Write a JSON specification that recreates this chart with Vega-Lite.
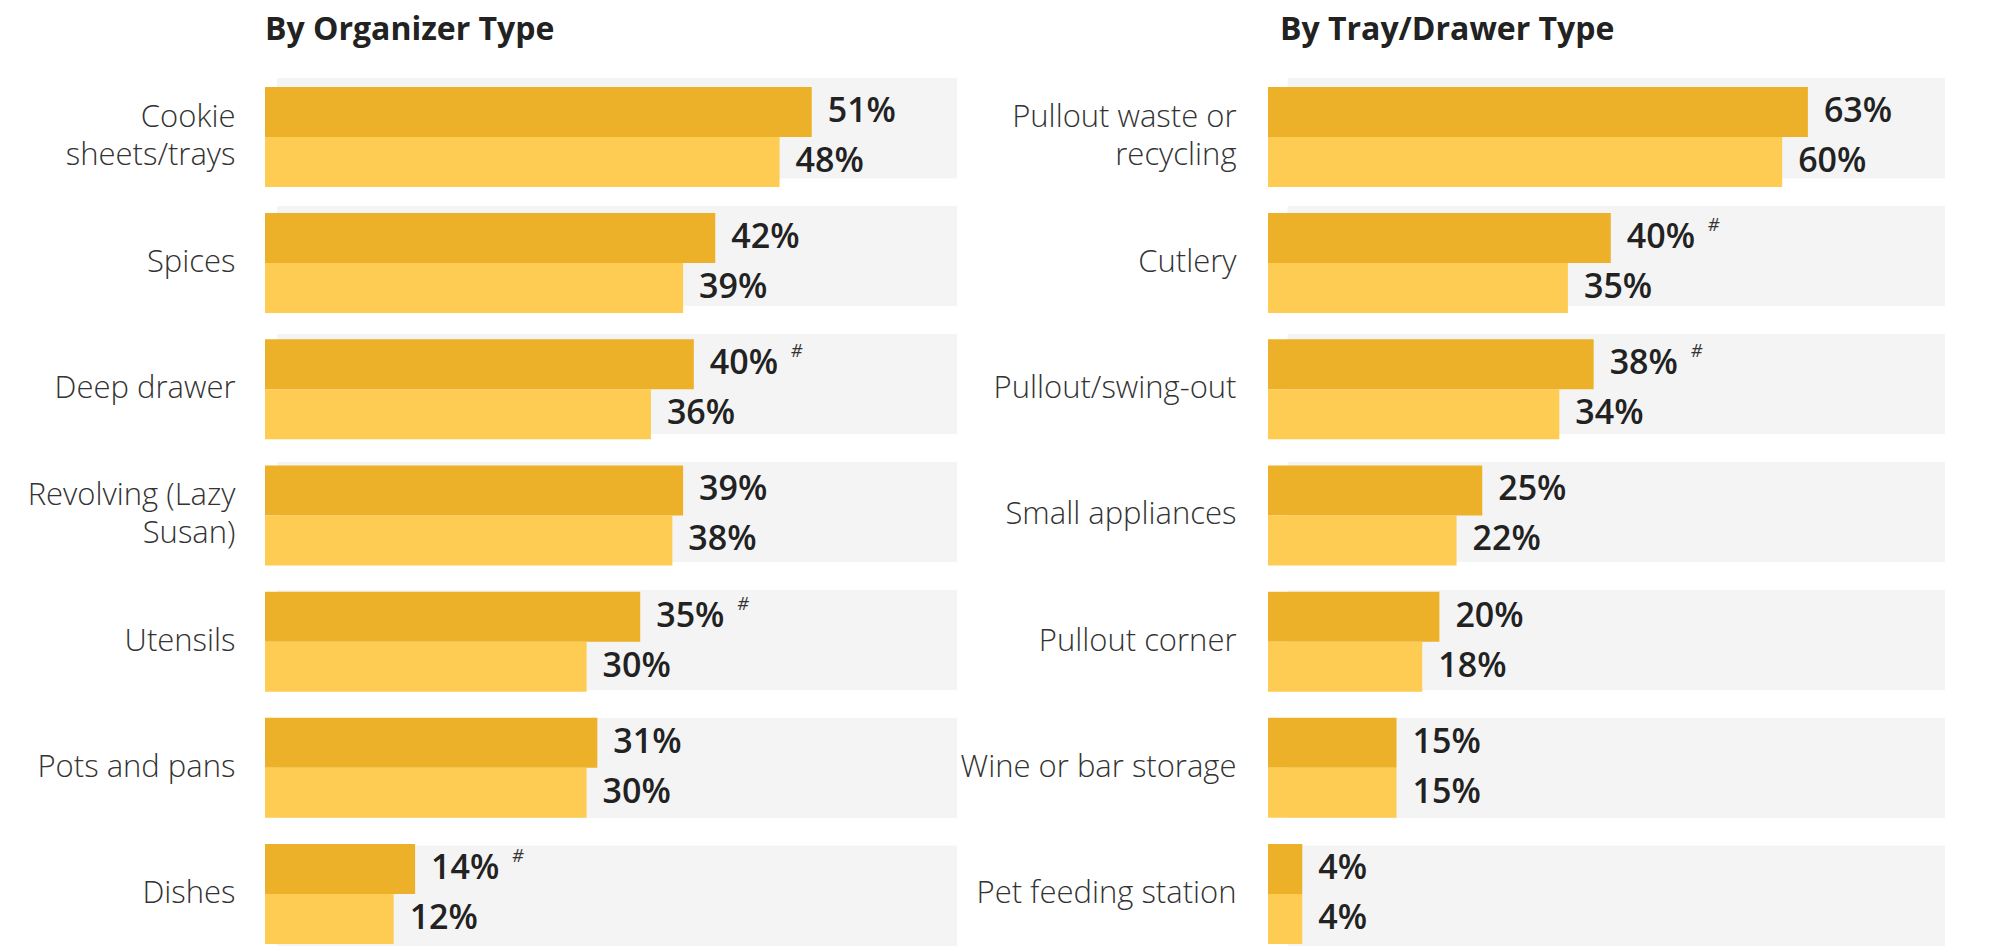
{
  "$schema": "https://vega.github.io/schema/vega-lite/v6.json",
  "background": "white",
  "padding": {"left": 0, "top": 14, "right": 0, "bottom": 0},
  "spacing": 0,
  "config": {"view": {"stroke": null}, "font": "Open Sans"},
  "datasets": {
    "left": [
      {"cat": "Cookie\nsheets/trays", "series": "current", "value": 51, "label": "51%", "flag": false},
      {"cat": "Cookie\nsheets/trays", "series": "prior", "value": 48, "label": "48%", "flag": false},
      {"cat": "Spices", "series": "current", "value": 42, "label": "42%", "flag": false},
      {"cat": "Spices", "series": "prior", "value": 39, "label": "39%", "flag": false},
      {"cat": "Deep drawer", "series": "current", "value": 40, "label": "40%", "flag": true},
      {"cat": "Deep drawer", "series": "prior", "value": 36, "label": "36%", "flag": false},
      {"cat": "Revolving (Lazy\nSusan)", "series": "current", "value": 39, "label": "39%", "flag": false},
      {"cat": "Revolving (Lazy\nSusan)", "series": "prior", "value": 38, "label": "38%", "flag": false},
      {"cat": "Utensils", "series": "current", "value": 35, "label": "35%", "flag": true},
      {"cat": "Utensils", "series": "prior", "value": 30, "label": "30%", "flag": false},
      {"cat": "Pots and pans", "series": "current", "value": 31, "label": "31%", "flag": false},
      {"cat": "Pots and pans", "series": "prior", "value": 30, "label": "30%", "flag": false},
      {"cat": "Dishes", "series": "current", "value": 14, "label": "14%", "flag": true},
      {"cat": "Dishes", "series": "prior", "value": 12, "label": "12%", "flag": false}
    ],
    "right": [
      {"cat": "Pullout waste or\nrecycling", "series": "current", "value": 63, "label": "63%", "flag": false},
      {"cat": "Pullout waste or\nrecycling", "series": "prior", "value": 60, "label": "60%", "flag": false},
      {"cat": "Cutlery", "series": "current", "value": 40, "label": "40%", "flag": true},
      {"cat": "Cutlery", "series": "prior", "value": 35, "label": "35%", "flag": false},
      {"cat": "Pullout/swing-out", "series": "current", "value": 38, "label": "38%", "flag": true},
      {"cat": "Pullout/swing-out", "series": "prior", "value": 34, "label": "34%", "flag": false},
      {"cat": "Small appliances", "series": "current", "value": 25, "label": "25%", "flag": false},
      {"cat": "Small appliances", "series": "prior", "value": 22, "label": "22%", "flag": false},
      {"cat": "Pullout corner", "series": "current", "value": 20, "label": "20%", "flag": false},
      {"cat": "Pullout corner", "series": "prior", "value": 18, "label": "18%", "flag": false},
      {"cat": "Wine or bar storage", "series": "current", "value": 15, "label": "15%", "flag": false},
      {"cat": "Wine or bar storage", "series": "prior", "value": 15, "label": "15%", "flag": false},
      {"cat": "Pet feeding station", "series": "current", "value": 4, "label": "4%", "flag": false},
      {"cat": "Pet feeding station", "series": "prior", "value": 4, "label": "4%", "flag": false}
    ]
  },
  "hconcat": [
    {
      "width": 692,
      "height": 868,
      "data": {"name": "left"},
      "title": {"text": "By Organizer Type", "anchor": "start", "frame": "group", "fontSize": 32, "fontWeight": "bold", "color": "#222222", "font": "Open Sans", "baseline": "alphabetic", "offset": 6},
      "resolve": {"scale": {"y": "independent"}},
      "layer": [
        {
          "mark": {"type": "bar", "color": "#F4F4F4"},
          "encoding": {
            "x": {"datum": 1.12, "type": "quantitative", "scale": {"domain": [0, 64.55]}, "axis": null},
            "x2": {"datum": 64.55},
            "y": {"field": "cat", "type": "nominal", "sort": null, "scale": {"paddingInner": 0.2175, "paddingOuter": 0}, "axis": null}
          }
        },
        {
          "encoding": {
            "y": {"field": "cat", "type": "nominal", "sort": null,
              "scale": {"paddingInner": 0.2075, "paddingOuter": 0.043, "align": 0.82},
              "axis": {"title": null, "domain": false, "ticks": false, "labelPadding": 30, "minExtent": 265, "maxExtent": 265,
                "labelFontSize": 31, "labelFont": "Open Sans", "labelFontWeight": 300, "labelColor": "#333333", "labelLineHeight": 38,
                "labelLimit": 300, "labelExpr": "split(datum.value, '\\n')",
                "labelOffset": {"condition": {"test": "indexof(datum.value, '\\n') >= 0", "value": -19}, "value": 0}}},
            "yOffset": {"field": "series", "type": "nominal", "sort": ["current", "prior"], "scale": {"paddingInner": 0, "paddingOuter": 0}},
            "x": {"field": "value", "type": "quantitative", "scale": {"domain": [0, 64.55]}, "axis": null}
          },
          "layer": [
            {
              "mark": {"type": "bar"},
              "encoding": {
                "color": {"field": "series", "type": "nominal", "scale": {"domain": ["current", "prior"], "range": ["#ECB128", "#FECB53"]}, "legend": null}
              }
            },
            {
              "mark": {"type": "text", "align": "left", "baseline": "middle", "dx": 16, "fontSize": 34, "fontWeight": 600, "font": "Open Sans", "color": "#222222"},
              "encoding": {"text": {"field": "label"}}
            },
            {
              "transform": [{"filter": "datum.flag"}],
              "mark": {"type": "text", "align": "left", "baseline": "middle", "dx": 97, "dy": -12, "fontSize": 18, "font": "Open Sans", "fontStyle": "italic", "color": "#333333"},
              "encoding": {"text": {"value": "#"}}
            }
          ]
        }
      ]
    },
    {
      "width": 677,
      "height": 868,
      "data": {"name": "right"},
      "title": {"text": "By Tray/Drawer Type", "anchor": "start", "frame": "group", "dx": 12, "fontSize": 32, "fontWeight": "bold", "color": "#222222", "font": "Open Sans", "baseline": "alphabetic", "offset": 6},
      "resolve": {"scale": {"y": "independent"}},
      "layer": [
        {
          "mark": {"type": "bar", "color": "#F4F4F4"},
          "encoding": {
            "x": {"datum": 2.3, "type": "quantitative", "scale": {"domain": [0, 79]}, "axis": null},
            "x2": {"datum": 79},
            "y": {"field": "cat", "type": "nominal", "sort": null, "scale": {"paddingInner": 0.2175, "paddingOuter": 0}, "axis": null}
          }
        },
        {
          "encoding": {
            "y": {"field": "cat", "type": "nominal", "sort": null,
              "scale": {"paddingInner": 0.2075, "paddingOuter": 0.043, "align": 0.82},
              "axis": {"title": null, "domain": false, "ticks": false, "labelPadding": 32, "minExtent": 311, "maxExtent": 311,
                "labelFontSize": 31, "labelFont": "Open Sans", "labelFontWeight": 300, "labelColor": "#333333", "labelLineHeight": 38,
                "labelLimit": 300, "labelExpr": "split(datum.value, '\\n')",
                "labelOffset": {"condition": {"test": "indexof(datum.value, '\\n') >= 0", "value": -19}, "value": 0}}},
            "yOffset": {"field": "series", "type": "nominal", "sort": ["current", "prior"], "scale": {"paddingInner": 0, "paddingOuter": 0}},
            "x": {"field": "value", "type": "quantitative", "scale": {"domain": [0, 79]}, "axis": null}
          },
          "layer": [
            {
              "mark": {"type": "bar"},
              "encoding": {
                "color": {"field": "series", "type": "nominal", "scale": {"domain": ["current", "prior"], "range": ["#ECB128", "#FECB53"]}, "legend": null}
              }
            },
            {
              "mark": {"type": "text", "align": "left", "baseline": "middle", "dx": 16, "fontSize": 34, "fontWeight": 600, "font": "Open Sans", "color": "#222222"},
              "encoding": {"text": {"field": "label"}}
            },
            {
              "transform": [{"filter": "datum.flag"}],
              "mark": {"type": "text", "align": "left", "baseline": "middle", "dx": 97, "dy": -12, "fontSize": 18, "font": "Open Sans", "fontStyle": "italic", "color": "#333333"},
              "encoding": {"text": {"value": "#"}}
            }
          ]
        }
      ]
    }
  ]
}
